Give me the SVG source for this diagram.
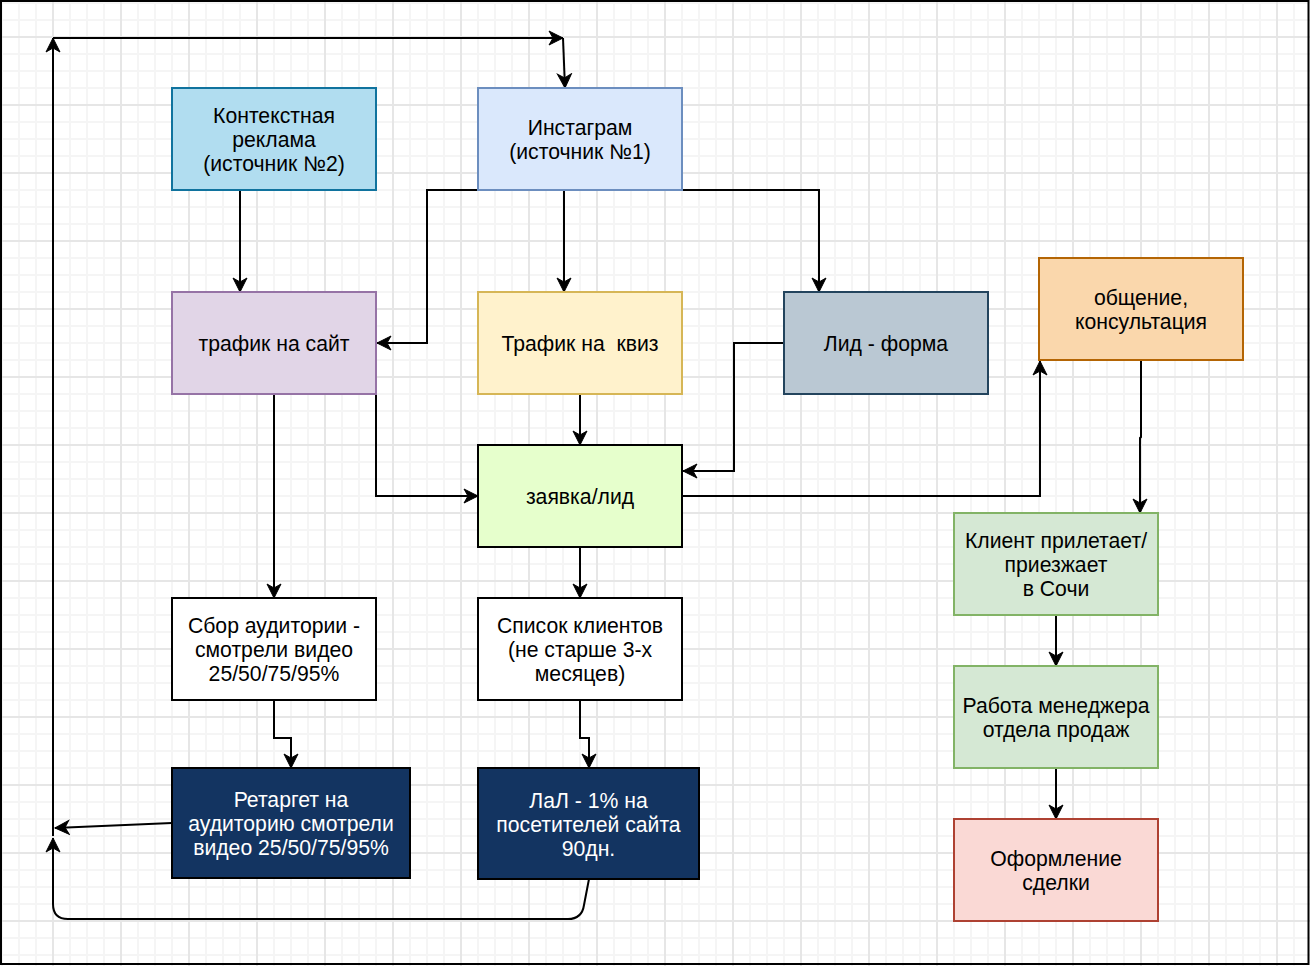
<svg xmlns="http://www.w3.org/2000/svg" width="1310" height="966" viewBox="0 0 1310 966">
<defs>
<pattern id="grid" x="52" y="36" width="68" height="68" patternUnits="userSpaceOnUse">
<path d="M18 0V68M35 0V68M52 0V68M0 18H68M0 35H68M0 52H68" stroke="#f5f5f5" stroke-width="2" fill="none"/>
<path d="M1 0V68M0 1H68" stroke="#e6e6e6" stroke-width="2" fill="none"/>
</pattern>
<marker id="arr" markerUnits="userSpaceOnUse" markerWidth="18" markerHeight="18" refX="15" refY="9" orient="auto">
<path d="M1,2 L15,9 L1,16 L5,9 Z" fill="#000" stroke="#000" stroke-width="1" stroke-linejoin="miter"/>
</marker>
<style>
.n{stroke-width:2}
.t{font-family:"Liberation Sans",Arial,Helvetica,sans-serif;font-size:21.2px;text-anchor:middle;fill:#000}
.w{fill:#fff}
.e{fill:none;stroke:#000;stroke-width:2;marker-end:url(#arr)}
</style>
</defs>
<rect x="0" y="0" width="1310" height="966" fill="#fff"/>
<rect x="0" y="0" width="1310" height="966" fill="url(#grid)"/>
<rect x="1" y="1" width="1307.5" height="963" fill="none" stroke="#000" stroke-width="2"/>

<g id="connectors">
<path class="e" d="M240,190 V292"/>
<path class="e" d="M478,190 H427 V343 H377"/>
<path class="e" d="M564,190 V292"/>
<path class="e" d="M682,190 H819 V292"/>
<path class="e" d="M784,343 H734 V471 H683"/>
<path class="e" d="M376,394 V496 H478"/>
<path class="e" d="M580,394 V445"/>
<path class="e" d="M682,496 H1040 V361"/>
<path class="e" d="M1141,360 V437 L1140,438 V513"/>
<path class="e" d="M580,547 V598"/>
<path class="e" d="M274,394 V598"/>
<path class="e" d="M274,700 V738 H291 V768"/>
<path class="e" d="M580,700 V738 H589 V768"/>
<path class="e" d="M1056,615 V666"/>
<path class="e" d="M1056,768 V819"/>
<path class="e" d="M172,823 L55,828"/>
<path class="e" d="M589,879 L584,905 Q582,919 568,919 H68 Q53,919 53,904 V838"/>
<path class="e" d="M53,836 V38"/>
<path class="e" d="M53,38 H563"/>
<path class="e" d="M563,38 L565,88"/>
</g>

<g id="ctx">
<rect class="n" x="172" y="88" width="204" height="102" fill="#b1ddf0" stroke="#10739e"/>
<text class="t" x="274" y="123">Контекстная</text>
<text class="t" x="274" y="147">реклама</text>
<text class="t" x="274" y="171">(источник №2)</text>
</g>
<g id="insta">
<rect class="n" x="478" y="88" width="204" height="102" fill="#dae8fc" stroke="#6c8ebf"/>
<text class="t" x="580" y="135">Инстаграм</text>
<text class="t" x="580" y="159">(источник №1)</text>
</g>
<g id="site">
<rect class="n" x="172" y="292" width="204" height="102" fill="#e1d5e7" stroke="#9673a6"/>
<text class="t" x="274" y="351">трафик на сайт</text>
</g>
<g id="quiz">
<rect class="n" x="478" y="292" width="204" height="102" fill="#fff2cc" stroke="#d6b656"/>
<text class="t" x="580" y="351" xml:space="preserve">Трафик на  квиз</text>
</g>
<g id="form">
<rect class="n" x="784" y="292" width="204" height="102" fill="#bac8d3" stroke="#23445d"/>
<text class="t" x="886" y="351">Лид - форма</text>
</g>
<g id="talk">
<rect class="n" x="1039" y="258" width="204" height="102" fill="#fad7ac" stroke="#b46504"/>
<text class="t" x="1141" y="305">общение,</text>
<text class="t" x="1141" y="329">консультация</text>
</g>
<g id="lead">
<rect class="n" x="478" y="445" width="204" height="102" fill="#e6ffcc" stroke="#000"/>
<text class="t" x="580" y="504">заявка/лид</text>
</g>
<g id="client">
<rect class="n" x="954" y="513" width="204" height="102" fill="#d5e8d4" stroke="#82b366"/>
<text class="t" x="1056" y="548">Клиент прилетает/</text>
<text class="t" x="1056" y="572">приезжает</text>
<text class="t" x="1056" y="596">в Сочи</text>
</g>
<g id="collect">
<rect class="n" x="172" y="598" width="204" height="102" fill="#fff" stroke="#000"/>
<text class="t" x="274" y="633">Сбор аудитории -</text>
<text class="t" x="274" y="657">смотрели видео</text>
<text class="t" x="274" y="681">25/50/75/95%</text>
</g>
<g id="list">
<rect class="n" x="478" y="598" width="204" height="102" fill="#fff" stroke="#000"/>
<text class="t" x="580" y="633">Список клиентов</text>
<text class="t" x="580" y="657">(не старше 3-х</text>
<text class="t" x="580" y="681">месяцев)</text>
</g>
<g id="manager">
<rect class="n" x="954" y="666" width="204" height="102" fill="#d5e8d4" stroke="#82b366"/>
<text class="t" x="1056" y="713">Работа менеджера</text>
<text class="t" x="1056" y="737">отдела продаж</text>
</g>
<g id="retarget">
<rect class="n" x="172" y="768" width="238" height="110" fill="#133461" stroke="#000"/>
<text class="t w" x="291" y="807">Ретаргет на</text>
<text class="t w" x="291" y="831">аудиторию смотрели</text>
<text class="t w" x="291" y="855">видео 25/50/75/95%</text>
</g>
<g id="lal">
<rect class="n" x="478" y="768" width="221" height="111" fill="#133461" stroke="#000"/>
<text class="t w" x="588.5" y="808">ЛаЛ - 1% на</text>
<text class="t w" x="588.5" y="832">посетителей сайта</text>
<text class="t w" x="588.5" y="856">90дн.</text>
</g>
<g id="deal">
<rect class="n" x="954" y="819" width="204" height="102" fill="#fad9d5" stroke="#ae4132"/>
<text class="t" x="1056" y="866">Оформление</text>
<text class="t" x="1056" y="890">сделки</text>
</g>
</svg>
